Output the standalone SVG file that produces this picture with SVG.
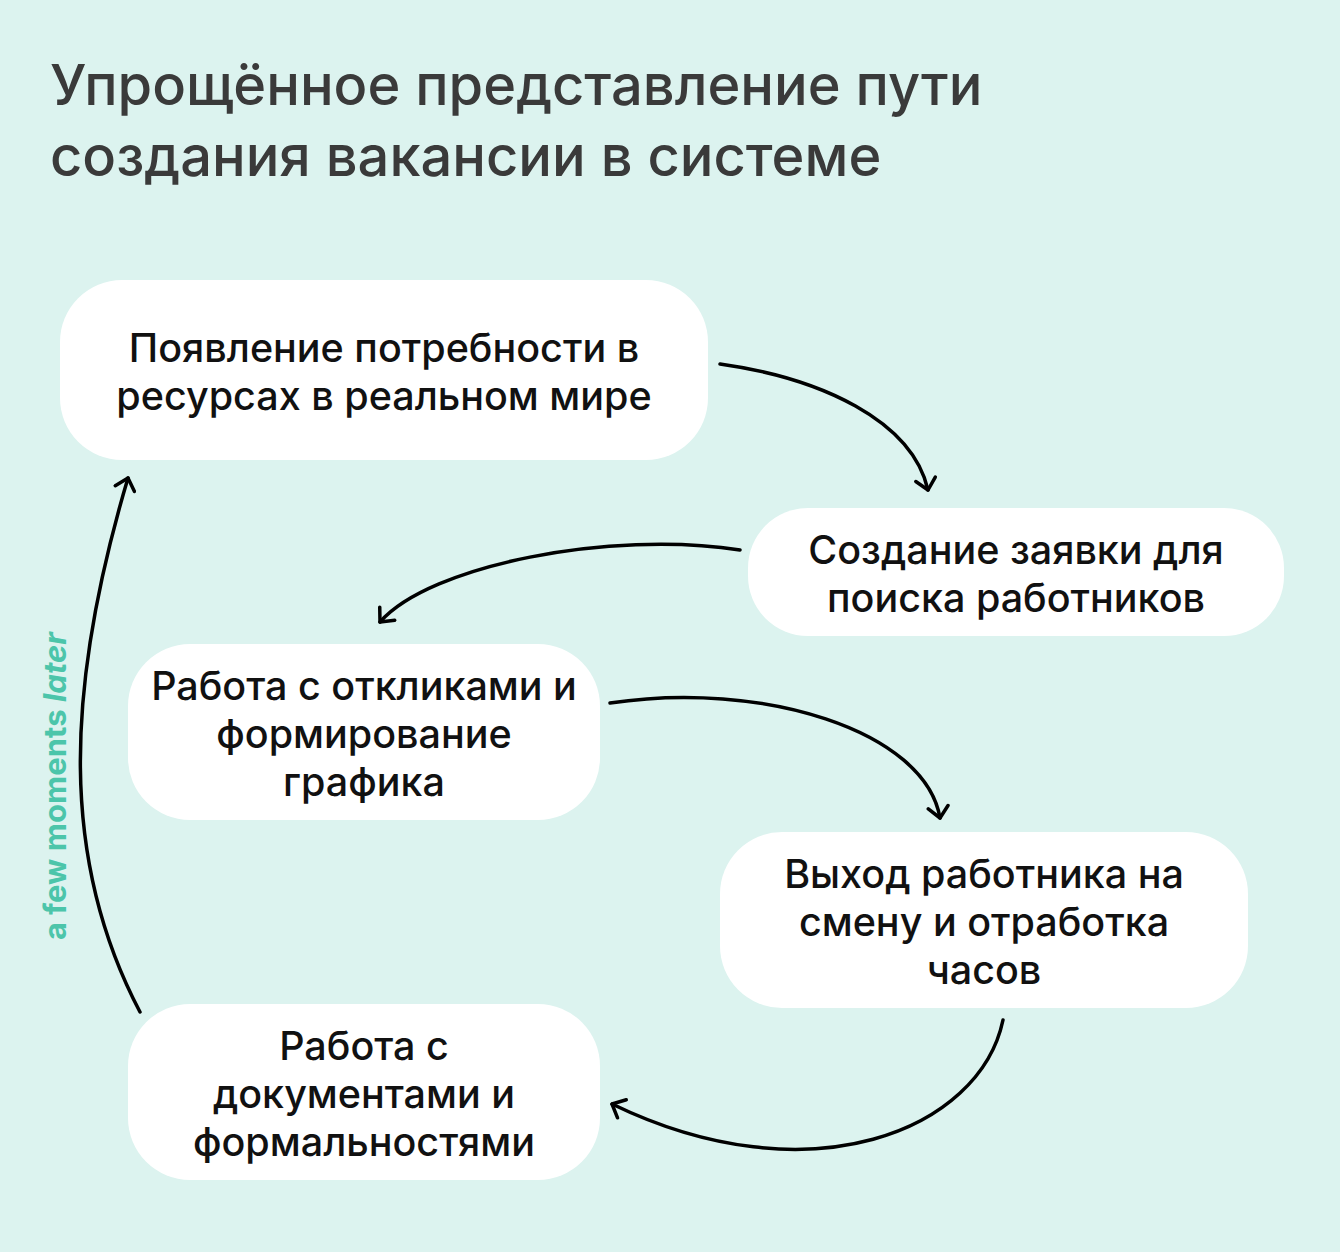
<svg xmlns="http://www.w3.org/2000/svg" width="1340" height="1252" viewBox="0 0 1340 1252">
<defs>
<style>
.bg{fill:#dcf3ef}
.node rect{fill:#ffffff}
.node text{font-family:Inter,"Noto Sans",sans-serif;font-size:39.5px;font-weight:500;fill:#111;text-anchor:middle}
.title{font-family:Inter,"Noto Sans",sans-serif;font-size:56px;font-weight:500;fill:#3a3a3a}
.conn path{fill:none;stroke:#000;stroke-width:3.5;stroke-linecap:round}
.note{font-family:Inter,"Noto Sans",sans-serif;font-size:31px;font-weight:700;fill:#4cc5aa}
</style>
<marker id="arr" viewBox="-14 -12 18 24" markerWidth="18" markerHeight="24" refX="0" refY="0" orient="auto" markerUnits="userSpaceOnUse">
<path d="M-11,-10 L0,0 L-11,10" fill="none" stroke="#000" stroke-width="3.5" stroke-linecap="round" stroke-linejoin="round"/>
</marker>
</defs>
<rect class="bg" x="0" y="0" width="1340" height="1252"/>
<text class="title" x="50" y="105">Упрощённое представление пути</text>
<text class="title" x="50" y="176">создания вакансии в системе</text>
<g id="node1" class="node"><rect x="60" y="280" width="648" height="180" rx="62"/>
<text x="384" y="362">Появление потребности в</text><text x="384" y="410">ресурсах в реальном мире</text></g>
<g id="node2" class="node"><rect x="748" y="508" width="536" height="128" rx="60"/>
<text x="1016" y="564">Создание заявки для</text><text x="1016" y="612">поиска работников</text></g>
<g id="node3" class="node"><rect x="128" y="644" width="472" height="176" rx="62"/>
<text x="364" y="700">Работа с откликами и</text><text x="364" y="748">формирование</text><text x="364" y="796">графика</text></g>
<g id="node4" class="node"><rect x="720" y="832" width="528" height="176" rx="62"/>
<text x="984" y="888">Выход работника на</text><text x="984" y="936">смену и отработка</text><text x="984" y="984">часов</text></g>
<g id="node5" class="node"><rect x="128" y="1004" width="472" height="176" rx="62"/>
<text x="364" y="1060">Работа с</text><text x="364" y="1108">документами и</text><text x="364" y="1156">формальностями</text></g>
<g id="connectors" class="conn">
<path d="M720,364 C820,378 912,420 928,490" marker-end="url(#arr)"/>
<path d="M740,550 C610,530 430,565 380,622" marker-end="url(#arr)"/>
<path d="M610,703 C760,680 925,730 940,818" marker-end="url(#arr)"/>
<path d="M1003,1020 C980,1130 810,1200 612,1104" marker-end="url(#arr)"/>
<path d="M140,1012 C60,860 65,690 128,478" marker-end="url(#arr)"/>
</g>
<text class="note" transform="translate(66,940) rotate(-90)">a few moments <tspan font-style="italic">later</tspan></text>
</svg>
